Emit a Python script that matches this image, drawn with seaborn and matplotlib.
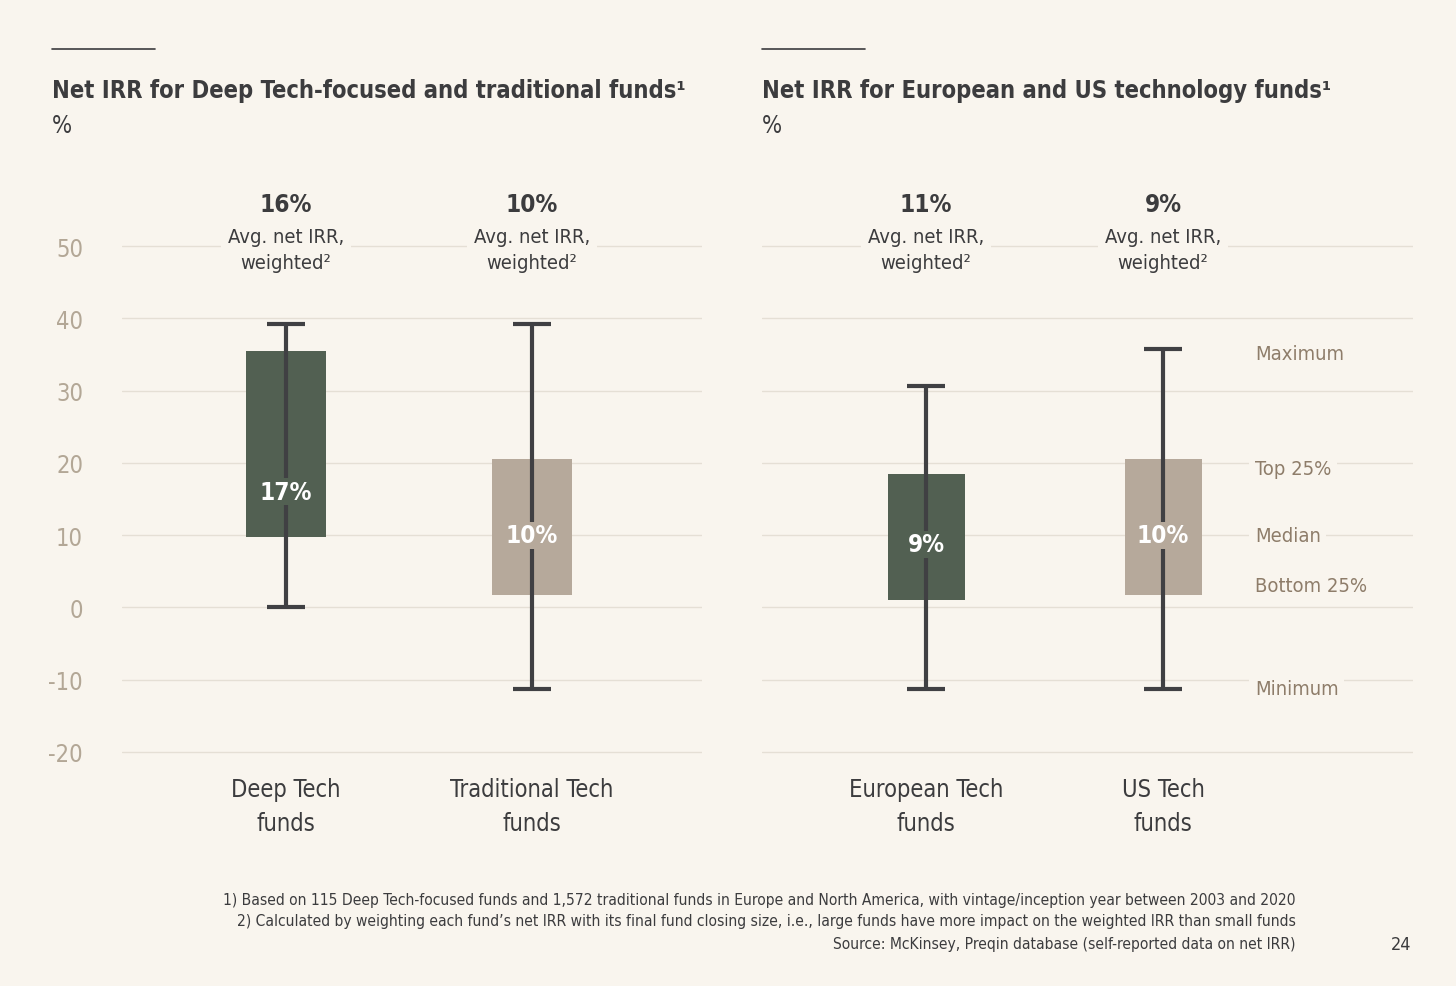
import numpy as np
import pandas as pd
import seaborn as sns
import matplotlib.pyplot as plt
from matplotlib.lines import Line2D

# Left panel: Deep Tech vs traditional
left_cats = ["Deep Tech\nfunds", "Traditional Tech\nfunds"]
left_min = [0.0, -11.3]
left_q1 = [9.7, 1.7]
left_median = [16.0, 10.0]
left_q3 = [35.5, 20.5]
left_max = [39.2, 39.2]
left_median_labels = ["17%", "10%"]
left_avg = ["16%", "10%"]

# Right panel: Europe vs US
right_cats = ["European Tech\nfunds", "US Tech\nfunds"]
right_min = [-11.3, -11.3]
right_q1 = [1.0, 1.7]
right_median = [8.7, 10.0]
right_q3 = [18.5, 20.5]
right_max = [30.6, 35.7]
right_median_labels = ["9%", "10%"]
right_avg = ["11%", "9%"]

yticks = [-20, -10, 0, 10, 20, 30, 40, 50]
box_colors = ["#526052", "#b6a99b"]

BG = "#f9f5ee"
DARK = "#3c3c3e"
WHISK = "#404043"
TICK = "#b3a796"
GRID = "#e5dfd5"
LEG = "#8e7d6a"

sns.set_theme(style="white")
plt.rcParams['font.family'] = ['DejaVu Sans']
plt.rcParams['font.stretch'] = 'condensed'
plt.rcParams['axes.unicode_minus'] = False

fig = plt.figure(figsize=(14.56, 9.87), dpi=100, facecolor=BG)
ax1 = fig.add_axes([0.0838, 0.230, 0.3984, 0.5269], facecolor=BG)
ax2 = fig.add_axes([0.5234, 0.230, 0.4471, 0.5269], facecolor=BG)


def draw_panel(ax, cats, mins, q1, med, q3, maxs, med_labels, avg_labels, xlim):
    df = pd.DataFrame({"cat": cats, "min": mins, "q1": q1, "med": med,
                       "q3": q3, "max": maxs})
    df["height"] = df["q3"] - df["q1"]
    sns.barplot(data=df, x="cat", y="height", bottom=df["q1"].values,
                color=box_colors[0], saturation=1, width=0.325,
                errorbar=None, linewidth=0, ax=ax, zorder=2)
    for patch, c in zip(ax.patches, box_colors):
        patch.set_facecolor(c)
    xs = np.arange(len(df))
    mid = (df["max"] + df["min"]) / 2
    ax.errorbar(xs, mid, yerr=[mid - df["min"], df["max"] - mid], fmt="none",
                ecolor=WHISK, elinewidth=3, capsize=14, capthick=3, zorder=3)
    tr = ax.get_xaxis_transform()
    for i, row in df.iterrows():
        ax.text(i, row["med"], med_labels[i], ha="center", va="center",
                color="white", fontsize=17.5, fontweight="bold", zorder=5,
                bbox=dict(facecolor=box_colors[i], edgecolor="none", pad=1))
        ax.text(i, 1.067, avg_labels[i], transform=tr, ha="center", va="center",
                color=DARK, fontsize=17.5, fontweight="bold")
        ax.text(i, 0.979, "Avg. net IRR,\nweighted²", transform=tr, ha="center",
                va="center", color=DARK, fontsize=14.5, linespacing=1.45,
                bbox=dict(facecolor=BG, edgecolor="none", pad=5), zorder=6)
    ax.set_ylim(-21, 51)
    ax.set_xlim(*xlim)
    ax.set_yticks(yticks)
    ax.set_yticklabels([str(t) for t in yticks])
    ax.yaxis.grid(True, color=GRID, lw=1)
    ax.xaxis.grid(False)
    ax.set_axisbelow(True)
    ax.set_xlabel("")
    ax.set_ylabel("")
    sns.despine(ax=ax, left=True, bottom=True)
    ax.tick_params(axis="x", length=0, pad=13, labelsize=17, labelcolor=DARK)
    ax.tick_params(axis="y", length=0, pad=28, labelsize=17, labelcolor=TICK)
    for lab in ax.get_xticklabels():
        lab.set_linespacing(1.5)
    return df


draw_panel(ax1, left_cats, left_min, left_q1, left_median, left_q3, left_max,
           left_median_labels, left_avg, (-0.667, 1.691))
rdf = draw_panel(ax2, right_cats, right_min, right_q1, right_median, right_q3,
                 right_max, right_median_labels, right_avg, (-0.692, 2.055))
ax2.tick_params(axis="y", labelleft=False)

# legend-like labels on the right panel, tied to the US fund values
us = rdf.iloc[1]
ytr = ax2.get_yaxis_transform()
legend_items = [("Maximum", us["max"] - 0.5, "center"), ("Top 25%", us["q3"], "top"),
                ("Median", us["med"], "center"), ("Bottom 25%", us["q1"], "bottom"),
                ("Minimum", us["min"], "center")]
for txt, yv, va in legend_items:
    ax2.text(0.757, yv, txt, transform=ytr, ha="left", va=va, color=LEG,
             fontsize=14.5, zorder=6,
             bbox=dict(facecolor=BG, edgecolor="none", pad=4))

# titles
for x0, title in [(0.0357, "Net IRR for Deep Tech-focused and traditional funds¹"),
                  (0.5234, "Net IRR for European and US technology funds¹")]:
    fig.add_artist(Line2D([x0, x0 + 0.0707], [0.9493, 0.9493], color=DARK, lw=1.2))
    fig.text(x0, 0.9078, title, ha="left", va="center", color=DARK,
             fontsize=17, fontweight="bold")
    fig.text(x0, 0.8724, "%", ha="left", va="center", color=DARK, fontsize=17)

notes = [
    "1) Based on 115 Deep Tech-focused funds and 1,572 traditional funds in Europe and North America, with vintage/inception year between 2003 and 2020",
    "2) Calculated by weighting each fund’s net IRR with its final fund closing size, i.e., large funds have more impact on the weighted IRR than small funds",
    "Source: McKinsey, Preqin database (self-reported data on net IRR)",
]
for yv, note in zip([0.0881, 0.0659, 0.0426], notes):
    fig.text(0.890, yv, note, ha="right", va="center", color=DARK, fontsize=11.2)
fig.text(0.962, 0.0426, "24", ha="center", va="center", color=DARK, fontsize=13)

fig.savefig("out.png", dpi=100, facecolor=BG)
